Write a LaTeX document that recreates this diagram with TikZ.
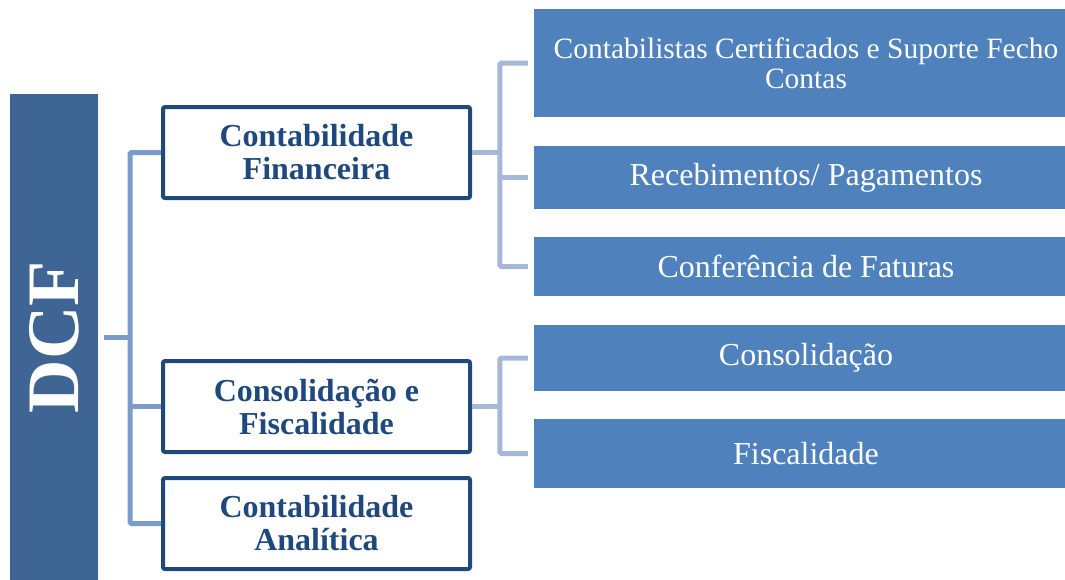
\documentclass[tikz,border=0pt]{standalone}
\usepackage{fontspec}
\setmainfont{Liberation Serif}
\definecolor{dcfc}{HTML}{3F6594}
\definecolor{darkc}{HTML}{1F497D}
\definecolor{connA}{HTML}{7B9CCB}
\definecolor{connB}{HTML}{A5B8D8}
\definecolor{leafc}{HTML}{4F81BD}
\begin{document}
\begin{tikzpicture}[x=1pt,y=-1pt,
  rootbox/.style={fill=dcfc,draw=none,minimum width=88pt,minimum height=486pt,inner sep=0pt},
  midbox/.style={draw=darkc,line width=4pt,fill=white,rounded corners=2pt,minimum width=307pt,minimum height=91pt,inner sep=0pt,
    align=center,text=darkc,font=\fontsize{32}{33}\selectfont\bfseries},
  leafbox/.style={fill=leafc,draw=none,minimum width=544pt,inner sep=0pt,align=center,text=white,
    font=\fontsize{32}{31}\selectfont},
  linkA/.style={draw=connA,line width=5pt,rounded corners=1.5pt},
  linkB/.style={draw=connB,line width=5pt,rounded corners=1.5pt}]
\useasboundingbox (0,0) rectangle (1065,579);
\clip (0,0) rectangle (1065,579);
% root
\node[rootbox] (dcf) at (54,337) {};
\node[rotate=90,text=white,font=\fontsize{74}{74}\selectfont\bfseries] (dcft) at (dcf.center) {DCF};
% middle boxes
\node[midbox] (b1) at (316.5,152.5) {Contabilidade\\Financeira};
\node[midbox] (b2) at (316.5,406.5) {Consolidação e\\Fiscalidade};
\node[midbox] (b3) at (316.5,523.5) {Contabilidade\\Analítica};
% leaves
\node[leafbox,minimum height=108pt,font=\fontsize{29.5}{30}\selectfont] (la) at (806,63) {Contabilistas Certificados e Suporte Fecho\\Contas};
\node[leafbox,minimum height=63pt] (lb) at (806,177.5) {Recebimentos/ Pagamentos};
\node[leafbox,minimum height=59pt] (lc) at (806,266.5) {Conferência de Faturas};
\node[leafbox,minimum height=66pt] (ld) at (806,358) {Consolidação};
\node[leafbox,minimum height=69pt] (le) at (806,453.5) {Fiscalidade};
% left connectors
\draw[linkA] ([xshift=6pt]dcf.east) -- ++(28,0);
\draw[linkA] (b1.west) -- ++(-31,0) |- (b3.west);
\draw[linkA] (b2.west) -- ++(-31,0);
% right connectors, upper group
\draw[linkB] (b1.east) -- ++(30,0);
\draw[linkB] ([xshift=-6pt]la.west) -- ++(-28,0) |- ([xshift=-6pt]lc.west);
\draw[linkB] ([xshift=-6pt]lb.west) -- ++(-28,0);
% right connectors, lower group
\draw[linkB] (b2.east) -- ++(30,0);
\draw[linkB] ([xshift=-6pt]ld.west) -- ++(-28,0) |- ([xshift=-6pt]le.west);
\end{tikzpicture}
\end{document}
